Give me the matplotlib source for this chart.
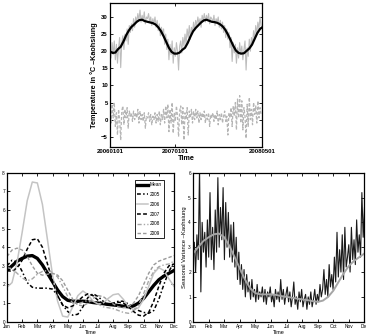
import numpy as np
import matplotlib
matplotlib.use('Agg')
import matplotlib.pyplot as plt

plt.rcParams['font.family'] = ['Liberation Sans', 'DejaVu Sans']

# --- gornji graf: dnevna temperatura, klimatologija i anomalije ---
temp_days = np.arange(0, 852, 6)
temp_daily = [
    21.5, 18.0, 22.5, 19.0, 23.0, 17.5,
    22.0, 16.5, 21.0, 24.0,
    15.2, 22.5, 24.5, 20.5, 25.0,
    23.0, 26.5, 22.0, 27.5, 25.5,
    28.0, 26.0, 29.5, 27.0, 30.0,
    28.5, 31.0, 29.0, 32.0, 28.5,
    30.5, 29.0, 31.5, 28.0, 30.0, 29.5,
    31.0, 28.5, 30.0, 27.5, 29.5,
    28.0, 30.0, 27.0, 29.0, 26.0,
    28.0, 24.5, 27.0, 25.0, 26.5,
    22.0, 25.0, 20.5, 23.5, 17.5,
    22.0, 19.0, 23.0, 16.5, 21.0,
    18.5, 22.5, 20.0, 14.5, 21.5,
    23.0, 19.5, 24.0, 21.5, 25.0,
    22.0, 26.5, 24.0, 27.5, 23.5,
    27.0, 25.5, 28.5, 26.0, 29.0,
    27.5, 30.0, 28.0, 29.5, 27.0,
    30.5, 29.0, 31.0, 28.5, 30.5,
    29.0, 31.0, 28.0, 30.0, 29.5, 28.5,
    30.5, 27.5, 29.5, 28.5, 30.0,
    27.0, 29.0, 26.5, 28.5, 25.5,
    27.5, 24.0, 26.5, 23.5, 25.5,
    21.0, 24.0, 17.0, 22.5, 19.5,
    22.0, 16.5, 21.0, 18.0, 22.5,
    19.0, 21.5, 17.5, 20.5, 23.0,
    14.5, 21.0, 18.5, 23.5, 20.0,
    24.0, 22.0, 26.0, 23.5, 27.5,
    25.0, 28.5, 26.5, 30.0, 27.5,
]
temp_anomaly = [
    3.5, -1.0, 4.5, 0.5, 5.0, -2.0,
    2.0, -4.5, 3.0, 0.0,
    -6.0, 2.5, 4.0, -1.5, 3.0,
    0.5, 3.5, -2.5, 2.5, 1.0,
    2.0, -0.5, 2.5, 0.0, 2.0,
    0.5, 3.0, -1.0, 2.5, 0.0,
    1.5, -0.5, 2.0, -2.5, 1.0, 0.5,
    2.0, -0.5, 1.5, -1.5, 1.0,
    0.0, 2.0, -1.0, 1.5, -0.5,
    2.5, -1.5, 1.5, 0.0, 3.0,
    -1.0, 4.0, 0.5, 4.5, -3.5,
    3.0, -1.0, 5.0, -4.0, 2.0,
    -0.5, 4.0, 1.0, -5.0, 2.5,
    4.0, -1.5, 3.5, -6.0, 2.0,
    0.0, 3.5, -4.5, 2.5, 0.5,
    3.0, -1.0, 2.5, 0.0, 3.0,
    0.5, 2.5, -1.0, 2.0, 0.0,
    2.0, 0.5, 2.5, -1.0, 1.5,
    0.0, 2.0, -2.0, 1.5, 0.5, 2.0,
    -0.5, 1.5, 0.0, 2.5, -1.5,
    1.5, 0.0, 2.0, -1.0, 1.0,
    2.5, -0.5, 1.0, -4.5, 2.0,
    0.5, 3.5, -2.0, 4.0, 1.0,
    5.0, -3.0, 6.0, 0.5, 7.0,
    -1.0, 5.5, -3.0, 3.5, 1.0,
    -5.5, 4.5, -2.0, 6.5, 0.0,
    3.0, -1.5, 5.0, 1.5, 4.0,
    -1.0, 5.5, 0.5, 3.5, 1.5,
]
clim_days = np.arange(0, 856, 15)
clim_temp = [
    19.9, 19.5, 19.6, 20.6, 21.3, 22.8, 24.6, 26.0, 27.1, 27.8, 28.6, 29.1,
    29.2, 28.8, 28.6, 28.4, 28.2, 27.8, 27.0, 25.9, 24.4, 22.7, 21.0, 19.8,
    19.3, 19.3, 19.6, 20.4, 21.0, 22.4, 24.2, 25.8, 26.8, 27.6, 28.4, 29.0,
    29.2, 28.9, 28.6, 28.5, 28.3, 27.9, 27.3, 26.3, 24.9, 23.3, 21.6, 20.2,
    19.5, 19.3, 19.4, 20.1, 20.8, 21.9, 23.6, 25.3, 26.5, 27.1,
]
date_ticks = [0, 365, 851]
date_labels = ['20060101', '20070101', '20080501']

# --- donji lijevi graf: sezonska varijanca po godinama ---
month_grid = 1 + np.arange(34) / 3.0
var_mean = [2.75, 3.0, 3.25, 3.4, 3.52, 3.55, 3.4, 3.05, 2.6, 2.15, 1.7, 1.35,
            1.15, 1.1, 1.1, 1.1, 1.08, 1.03, 1.0, 0.97, 0.93, 0.9, 0.87, 0.83,
            0.8, 0.85, 1.0, 1.25, 1.6, 1.95, 2.25, 2.45, 2.6, 2.75]
var_2005 = [3.0, 3.3, 3.2, 2.7, 2.1, 1.85, 1.8, 1.8, 1.8, 1.75, 1.4, 0.9,
            0.55, 0.35, 0.4, 0.8, 1.3, 1.5, 1.35, 1.1, 0.95, 1.0, 1.1, 1.1,
            0.95, 0.75, 0.6, 0.5, 0.45, 0.6, 1.2, 2.0, 2.7, 3.2]
var_2006 = [1.85, 2.1, 3.2, 4.8, 6.5, 7.5, 7.45, 6.3, 4.4, 2.5, 1.1, 0.3,
            0.25, 0.8, 1.4, 1.65, 1.45, 1.1, 0.95, 1.0, 1.25, 1.45, 1.5, 1.2,
            0.8, 0.65, 0.75, 1.2, 1.9, 2.6, 2.9, 2.75, 2.3, 1.9]
var_2007 = [2.75, 2.7, 2.9, 3.3, 3.9, 4.4, 4.45, 4.0, 3.1, 2.2, 1.4, 0.9,
            0.75, 0.85, 1.1, 1.35, 1.5, 1.4, 1.15, 0.95, 0.9, 0.95, 1.05, 1.0,
            0.8, 0.55, 0.35, 0.3, 0.5, 1.1, 1.9, 2.6, 3.0, 3.1]
var_2008 = [2.9, 2.85, 2.6, 2.35, 2.2, 2.3, 2.55, 2.7, 2.75, 2.65, 2.4, 1.9,
            1.35, 1.0, 0.95, 1.05, 1.15, 1.1, 0.95, 0.8, 0.75, 0.7, 0.6, 0.5,
            0.45, 0.55, 0.9, 1.5, 2.2, 2.7, 2.95, 3.05, 3.1, 3.25]
var_2009 = [3.5, 3.85, 3.95, 3.85, 3.5, 3.0, 2.6, 2.5, 2.55, 2.6, 2.5, 2.2,
            1.7, 1.2, 0.9, 0.85, 1.0, 1.25, 1.4, 1.35, 1.15, 0.95, 0.8, 0.75,
            0.8, 1.0, 1.4, 2.0, 2.6, 3.05, 3.25, 3.35, 3.45, 3.55]
months = ['Jan', 'Feb', 'Mar', 'Apr', 'May', 'Jun', 'Jul', 'Aug', 'Sep', 'Oct', 'Nov', 'Dec']

# --- donji desni graf: dnevna sezonska varijanca ---
var_daily = [
    2.7, 3.2, 2.0, 3.5, 2.5, 6.2, 1.2, 4.0, 2.8, 3.6, 2.2,
    4.1, 2.6, 5.2, 2.5, 3.8, 2.1, 4.5, 2.8, 5.8, 3.0, 4.6,
    3.3, 5.4, 2.5, 4.8, 3.0, 4.4, 2.6, 3.9, 2.4, 4.0, 2.2,
    3.4, 1.7, 2.8, 1.5, 2.3, 1.3, 2.1, 1.0, 1.9, 1.2, 1.6,
    0.9, 1.7, 1.0, 1.3, 0.8, 1.5, 0.9, 1.2, 1.0, 1.4, 0.8,
    1.3, 0.7, 1.2, 1.0, 1.4, 0.8, 1.1, 0.6, 1.3, 0.9, 1.2,
    0.8, 1.7, 0.9, 1.3, 0.7, 1.1, 1.4, 0.8, 1.2, 0.6, 1.0,
    1.6, 0.7, 1.0, 0.5, 1.2, 0.8, 1.3, 0.6, 0.9, 1.1, 0.5,
    1.0, 0.7, 1.2, 0.6, 0.9, 1.3, 0.7, 1.1, 0.8, 1.5, 1.0,
    1.3, 2.1, 1.1, 1.7, 1.0, 2.3, 1.4, 1.9, 1.3, 2.6, 1.6,
    3.6, 1.8, 2.9, 2.0, 3.5, 1.7, 3.8, 2.2, 2.6, 3.1, 2.0,
    3.8, 2.5, 3.3, 2.3, 4.1, 2.8, 3.5, 2.6, 5.2, 3.4, 4.6,
]
daily_grid = np.linspace(1, 12, len(var_daily))


def matlab_axes(ax):
    # okvir i unutarnje crtice kao u MATLAB-u
    ax.tick_params(direction='in', top=True, right=True, length=2, width=0.6, pad=1.5)
    for s in ax.spines.values():
        s.set_linewidth(0.9)


fig = plt.figure(figsize=(3.66, 3.34), dpi=100)

# gornji graf
ax1 = fig.add_axes([0.3005, 0.5599, 0.4153, 0.4302])
ax1.plot(temp_days, temp_daily, color='#bdbdbd', lw=0.8)
ax1.plot(temp_days, temp_anomaly, color='#b5b5b5', lw=0.9, ls=(0, (2.5, 1.5)))
ax1.plot(clim_days, clim_temp, color='black', lw=1.6)
ax1.set_xlim(0, 851)
ax1.set_ylim(-8, 34)
ax1.set_yticks(np.arange(-5, 31, 5))
ax1.set_xticks(date_ticks)
ax1.set_xticklabels(date_labels)
matlab_axes(ax1)
for lab in ax1.get_xticklabels() + ax1.get_yticklabels():
    lab.set_fontsize(4.3)
    lab.set_fontweight('bold')
ax1.set_ylabel('Temperature in °C \u2013Kaohsiung', fontsize=5.2, fontweight='bold', labelpad=2)
ax1.set_xlabel('Time', fontsize=5.2, fontweight='bold', labelpad=1)

# donji lijevi graf
ax2 = fig.add_axes([0.0191, 0.0368, 0.4563, 0.4461])
ax2.plot(month_grid, var_mean, color='black', lw=2.4, label='Mean')
ax2.plot(month_grid, var_2005, color='black', lw=1.1, ls=(0, (2.5, 1.5, 1, 1.5)), label='2005')
ax2.plot(month_grid, var_2006, color='#c4c4c4', lw=1.1, label='2006')
ax2.plot(month_grid, var_2007, color='black', lw=1.1, ls=(0, (2.5, 1.5)), label='2007')
ax2.plot(month_grid, var_2008, color='#a8a8a8', lw=1.0, ls=(0, (3, 1.5, 1, 1.5)), label='2008')
ax2.plot(month_grid, var_2009, color='#999999', lw=1.0, ls=(0, (2.5, 1.5)), label='2009')
ax2.set_xlim(1, 12)
ax2.set_ylim(0, 8)
ax2.set_xticks(range(1, 13))
ax2.set_xticklabels(months)
ax2.set_yticks(range(0, 9))
matlab_axes(ax2)
ax2.tick_params(labelsize=3.4)
ax2.set_xlabel('Time', fontsize=4, labelpad=1)
ax2.set_ylabel('Seasonal Variance \u2013Kaohsiung', fontsize=4.2, labelpad=1)
leg = ax2.legend(loc='upper left', bbox_to_anchor=(0.766, 0.951), borderaxespad=0,
                 fontsize=3.4, handlelength=2.3, labelspacing=1.0, borderpad=0.5,
                 handletextpad=0.4, fancybox=False, framealpha=1)
leg.get_frame().set_edgecolor('black')
leg.get_frame().set_linewidth(0.6)

# donji desni graf
ax3 = fig.add_axes([0.5273, 0.0368, 0.4686, 0.4461])
ax3.plot(daily_grid, var_daily, color='#1a1a1a', lw=0.8)
ax3.plot(month_grid, var_mean, color='#a5a5a5', lw=1.4)
ax3.set_xlim(1, 12)
ax3.set_ylim(0, 6)
ax3.set_xticks(range(1, 13))
ax3.set_xticklabels(months)
ax3.set_yticks(range(0, 7))
matlab_axes(ax3)
ax3.tick_params(labelsize=3.4)
ax3.set_xlabel('Time', fontsize=4, labelpad=1)
ax3.set_ylabel('Seasonal Variance \u2013Kaohsiung', fontsize=4.2, labelpad=1)

fig.savefig('out.png', dpi=100)
